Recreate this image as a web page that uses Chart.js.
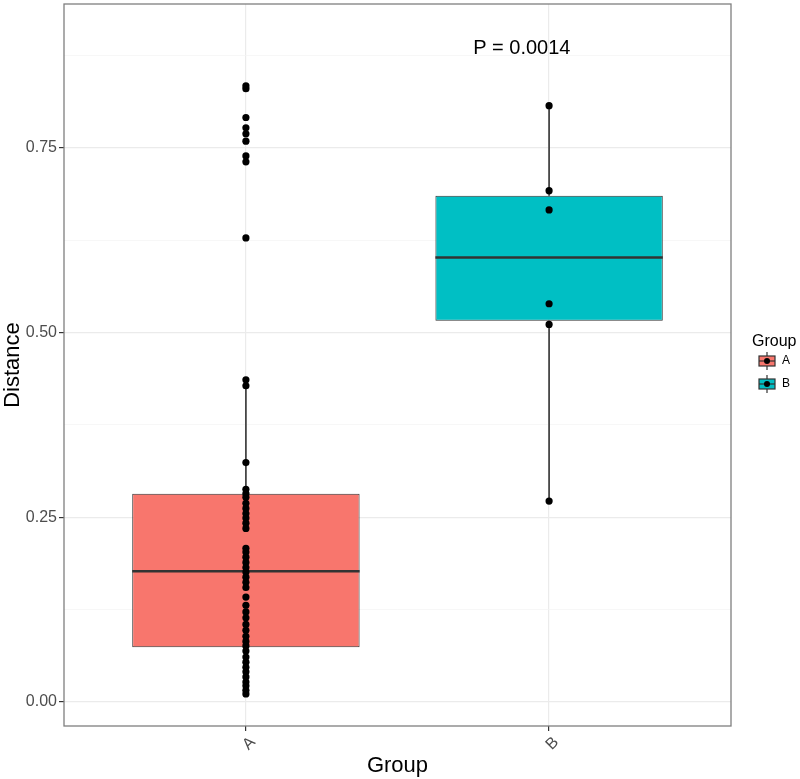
<!DOCTYPE html>
<html><head><meta charset="utf-8">
<script src="https://cdn.jsdelivr.net/npm/chart.js@4.4.0/dist/chart.umd.min.js"></script>
<style>html,body{margin:0;padding:0;background:#fff}#wrap{width:800px;height:779px}</style>
</head><body><div id="wrap"><canvas id="c" width="800" height="779"></canvas></div>
<script>
// ---- data ----
const categories = ['A', 'B'];
const groupA = [0.834, 0.830, 0.791, 0.777, 0.769, 0.759, 0.739, 0.731, 0.628,
  0.436, 0.428, 0.324,
  0.288, 0.282, 0.277, 0.269, 0.262, 0.255, 0.249, 0.242, 0.235,
  0.208, 0.203, 0.196, 0.189, 0.182, 0.176, 0.169, 0.162, 0.155,
  0.142, 0.131, 0.122, 0.114, 0.105, 0.097, 0.089, 0.082, 0.076, 0.069,
  0.061, 0.054, 0.047, 0.041, 0.034, 0.027, 0.022, 0.016, 0.011];
const groupB = [0.807, 0.692, 0.666, 0.539, 0.511, 0.272];
const boxQ1 = [0.0743, 0.516];
const boxMedian = [0.177, 0.6015];
const boxQ3 = [0.282, 0.685];
const whiskerLow = [0.011, 0.272];
const whiskerHigh = [0.436, 0.807];
const yTickValues = [0, 0.25, 0.5, 0.75];
const yTickLabels = ['0.00', '0.25', '0.50', '0.75'];
const yMinorValues = [0.125, 0.375, 0.625, 0.875];
const pLabel = 'P = 0.0014';
const pLabelPos = { x: 1.91, y: 0.885 };
const legendTitle = 'Group';
const fillColors = ['#F8766D', '#00BFC4'];

const FONT = "'Liberation Sans', Arial, Helvetica, sans-serif";
const groups = [groupA, groupB];

const datasets = [];
// boxes
datasets.push({
  type: 'bar', order: 3,
  data: categories.map((c, i) => ({ x: i + 1, y: [boxQ1[i], boxQ3[i]] })),
  backgroundColor: fillColors, borderColor: '#333333', borderWidth: 1,
  borderSkipped: false, barPercentage: 0.75, categoryPercentage: 1
});
// whiskers & medians
categories.forEach((c, i) => {
  datasets.push({ type: 'line', order: 2, data: [{ x: i + 1, y: boxQ3[i] }, { x: i + 1, y: whiskerHigh[i] }],
    borderColor: '#333333', borderWidth: 1.6, pointRadius: 0 });
  datasets.push({ type: 'line', order: 2, data: [{ x: i + 1, y: whiskerLow[i] }, { x: i + 1, y: boxQ1[i] }],
    borderColor: '#333333', borderWidth: 1.6, pointRadius: 0 });
  datasets.push({ type: 'line', order: 1, data: [{ x: i + 1 - 0.375, y: boxMedian[i] }, { x: i + 1 + 0.375, y: boxMedian[i] }],
    borderColor: '#333333', borderWidth: 2.4, pointRadius: 0 });
});
// points
groups.forEach((g, i) => {
  datasets.push({ type: 'line', order: 0, showLine: false,
    data: g.map(v => ({ x: i + 1, y: v })),
    pointRadius: 3.6, pointBackgroundColor: '#000', pointBorderWidth: 0, borderColor: '#000' });
});

const framePlugin = {
  id: 'frame',
  afterDraw(chart) {
    const { ctx, chartArea: a, scales } = chart;
    ctx.save();
    ctx.strokeStyle = '#7f7f7f'; ctx.lineWidth = 1.3;
    ctx.strokeRect(a.left, a.top, a.right - a.left, a.bottom - a.top);
    // P value annotation
    ctx.fillStyle = '#000'; ctx.font = '20px ' + FONT;
    ctx.textAlign = 'center'; ctx.textBaseline = 'middle';
    ctx.fillText(pLabel, scales.x.getPixelForValue(pLabelPos.x), scales.y.getPixelForValue(pLabelPos.y));
    // legend
    ctx.textAlign = 'left';
    ctx.font = '16px ' + FONT;
    ctx.fillText(legendTitle, 752, 342);
    categories.forEach((c, i) => {
      const y0 = 352 + i * 23, x0 = 758, s = 18, cx = x0 + s / 2, cy = y0 + s / 2;
      ctx.strokeStyle = '#333'; ctx.lineWidth = 1.2;
      ctx.beginPath(); ctx.moveTo(cx, y0); ctx.lineTo(cx, y0 + s); ctx.stroke();
      ctx.fillStyle = fillColors[i];
      ctx.fillRect(x0 + 1, y0 + 4, s - 2, s - 8);
      ctx.strokeRect(x0 + 1, y0 + 4, s - 2, s - 8);
      ctx.beginPath(); ctx.moveTo(x0 + 1, cy); ctx.lineTo(x0 + s - 1, cy); ctx.stroke();
      ctx.fillStyle = '#000';
      ctx.beginPath(); ctx.arc(cx, cy, 3, 0, Math.PI * 2); ctx.fill();
      ctx.font = '12px ' + FONT; ctx.textBaseline = 'middle';
      ctx.fillText(c, x0 + s + 6, cy);
    });
    ctx.restore();
  }
};

new Chart(document.getElementById('c'), {
  type: 'bar',
  data: { datasets },
  plugins: [framePlugin],
  options: {
    responsive: false, animation: false, devicePixelRatio: 1,
    layout: { padding: { top: 3, right: 69, bottom: 0, left: 0 } },
    plugins: { legend: { display: false }, tooltip: { enabled: false } },
    scales: {
      x: {
        type: 'linear', min: 0.4, max: 2.6, offset: false,
        afterBuildTicks: s => { s.ticks = categories.map((c, i) => ({ value: i + 1 })); },
        afterFit: s => { s.height = 53; s.paddingLeft = 0; s.paddingRight = 0; },
        border: { display: false },
        grid: { offset: false, color: '#ebebeb', lineWidth: 1.2, tickColor: '#333', tickLength: 5, drawTicks: true },
        ticks: { autoSkip: false, minRotation: 45, maxRotation: 45, padding: 2, labelOffset: 7, color: '#4d4d4d',
          font: { family: FONT, size: 16 }, callback: v => categories[v - 1] },
        title: { display: true, text: 'Group', color: '#000', font: { family: FONT, size: 22 }, padding: { top: 0, bottom: 0 } }
      },
      y: {
        type: 'linear', min: -0.0324, max: 0.9446,
        afterBuildTicks: s => { s.ticks = [...yTickValues, ...yMinorValues].sort((a, b) => a - b).map(v => ({ value: v })); },
        afterFit: s => { s.width = 64; s.paddingTop = 0; s.paddingBottom = 0; },
        border: { display: false },
        grid: {
          color: c => (c.tick && yTickValues.includes(c.tick.value)) ? '#ebebeb' : '#f4f4f4',
          lineWidth: c => (c.tick && yTickValues.includes(c.tick.value)) ? 1.2 : 0.7,
          tickColor: c => (c.tick && yTickValues.includes(c.tick.value)) ? '#333' : 'rgba(0,0,0,0)',
          tickLength: 5
        },
        ticks: { padding: 2, color: '#4d4d4d', font: { family: FONT, size: 16 },
          callback: v => { const k = yTickValues.indexOf(v); return k >= 0 ? yTickLabels[k] : ''; } },
        title: { display: true, text: 'Distance', color: '#000', font: { family: FONT, size: 22 }, padding: { top: 0, bottom: 0 } }
      }
    }
  }
});
</script></body></html>
